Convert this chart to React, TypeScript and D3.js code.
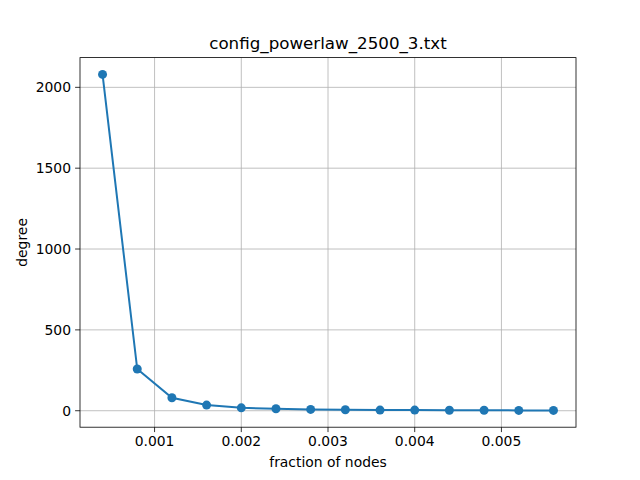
import React from "react";
import * as d3 from "d3";

const xs = [0.0004, 0.0008, 0.0012, 0.0016, 0.002, 0.0024, 0.0028, 0.0032, 0.0036, 0.004, 0.0044, 0.0048, 0.0052, 0.0056];
const ys = [2080, 258, 80, 35, 18, 12, 8, 6, 4, 4, 3, 3, 2, 2];
const xTicks = [0.001, 0.002, 0.003, 0.004, 0.005];
const yTicks = [0, 500, 1000, 1500, 2000];

export default function App() {
  const L = 80, R = 576, T = 57.6, B = 427.2;
  const xMin = d3.min(xs)!, xMax = d3.max(xs)!;
  const yMin = d3.min(ys)!, yMax = d3.max(ys)!;
  const xm = (xMax - xMin) * 0.05, ym = (yMax - yMin) * 0.05;
  const x = d3.scaleLinear().domain([xMin - xm, xMax + xm]).range([L, R]);
  const y = d3.scaleLinear().domain([yMin - ym, yMax + ym]).range([B, T]);
  const line = d3.line<number>().x((_, i) => x(xs[i])).y(d => y(d));
  const font = "DejaVu Sans";
  const fs = 13.9;
  return (
    <svg width={640} height={480} style={{ position: "absolute", left: 0, top: 0 }} fontFamily={font}>
      <rect width={640} height={480} fill="white" />
      {xTicks.map(t => (
        <g key={t}>
          <line x1={x(t)} x2={x(t)} y1={T} y2={B} stroke="#b0b0b0" strokeWidth={0.8} />
          <line x1={x(t)} x2={x(t)} y1={B} y2={B + 4.9} stroke="black" strokeWidth={0.8} />
          <text x={x(t)} y={B + 19} fontSize={fs} textAnchor="middle">{t.toFixed(3)}</text>
        </g>
      ))}
      {yTicks.map(t => (
        <g key={t}>
          <line x1={L} x2={R} y1={y(t)} y2={y(t)} stroke="#b0b0b0" strokeWidth={0.8} />
          <line x1={L - 4.9} x2={L} y1={y(t)} y2={y(t)} stroke="black" strokeWidth={0.8} />
          <text x={L - 9} y={y(t) + 5} fontSize={fs} textAnchor="end">{t}</text>
        </g>
      ))}
      <path d={line(ys)!} fill="none" stroke="#1f77b4" strokeWidth={2} />
      {ys.map((v, i) => <circle key={i} cx={x(xs[i])} cy={y(v)} r={4.5} fill="#1f77b4" />)}
      <rect x={L} y={T} width={R - L} height={B - T} fill="none" stroke="black" strokeWidth={0.8} />
      <text x={(L + R) / 2} y={T - 9} fontSize={16.7} textAnchor="middle">config_powerlaw_2500_3.txt</text>
      <text x={(L + R) / 2} y={467} fontSize={fs} textAnchor="middle">fraction of nodes</text>
      <text transform={`translate(27,${(T + B) / 2}) rotate(-90)`} fontSize={fs} textAnchor="middle">degree</text>
    </svg>
  );
}
